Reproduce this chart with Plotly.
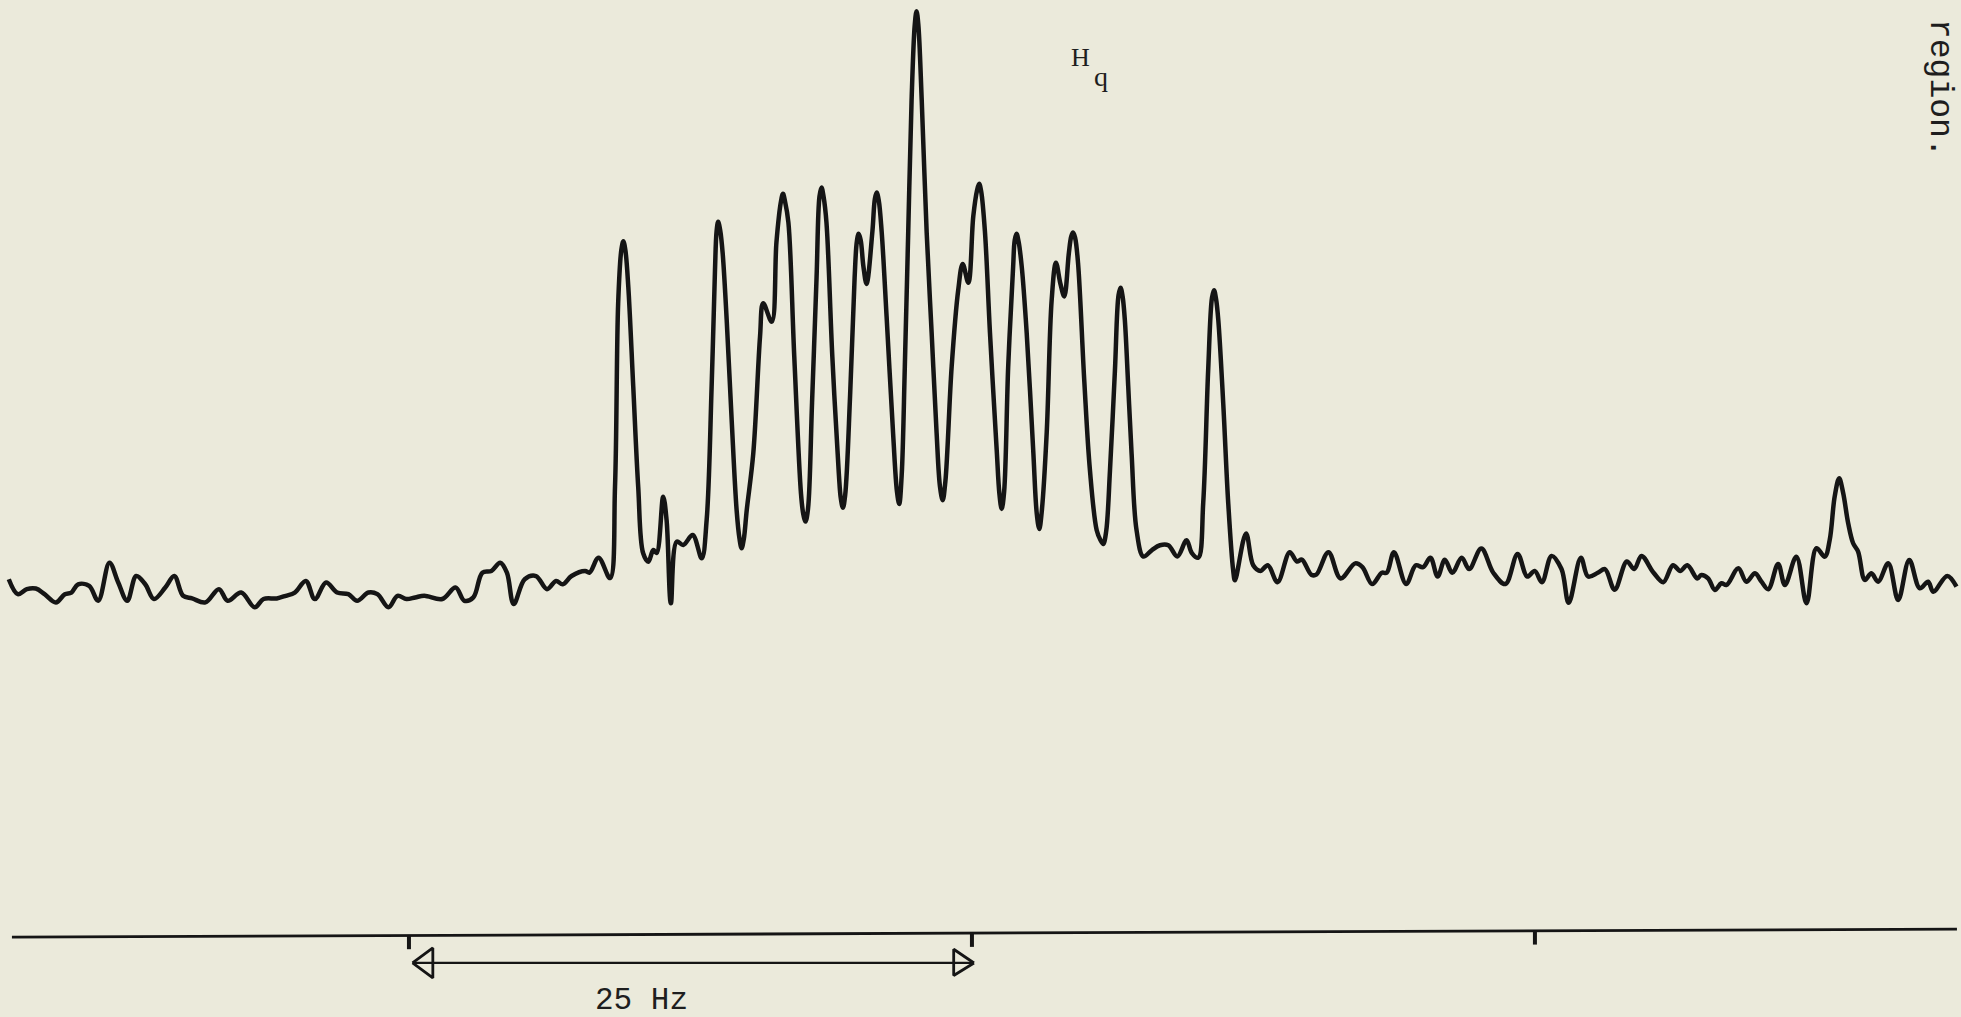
import numpy as np
import plotly.graph_objects as go

# recorder trace: frequency offset (Hz) and signal (arb. units)
# baseline to the left of the multiplet
left_hz = [
    -17.77, -17.37, -16.97, -16.57, -16.18, -15.68, -15.28, -14.99, -14.69, -14.20,
    -13.80, -13.30, -12.91, -12.51, -12.11, -11.71, -11.32, -10.82, -10.42, -10.03,
    -9.63, -9.04, -8.44, -8.05, -7.45, -6.85, -6.46, -5.87, -5.47, -5.07,
    -4.58, -4.18, -3.68, -3.19, -2.69, -2.30, -1.80, -1.40, -0.91, -0.51,
    -0.11, 0.28, 0.68, 1.48, 2.07, 2.46, 2.86, 3.26, 3.66, 4.05,
    4.35, 4.65, 5.14, 5.64, 6.13, 6.53, 6.83, 7.22, 7.82, 8.02,
    8.42,
]
left_sig = [
    11.8, -0.1, 3.9, 4.4, -0.1, -6.7, -0.1, 1.2, 7.8, 6.5,
    -5.4, 25, 9.2, -5.4, 14.4, 7.8, -4, 5.2, 14.4, -1.4,
    -3.5, -6.7, 3.9, -5.4, 1.2, -10.6, -4, -3.5, -1.4, 1.2,
    10.5, -4, 9.2, 1.2, -0.1, -5.4, 1.2, -0.1, -10.6, -1.4,
    -4, -2.7, -1.4, -4, 5.2, -5.4, -2.7, 17.1, 18.4, 25,
    17.1, -8, 11.8, 14.4, 3.9, 10.5, 7.8, 14.4, 18.4, 17.1,
    29,
]

# the H_q multiplet
mult_hz = [
    8.93, 9.15, 9.29, 9.43, 9.52, 9.61, 9.74, 9.96, 10.18, 10.40,
    10.63, 10.85, 11.00, 11.29, 11.44, 11.63, 11.89, 12.18, 12.60, 13.00,
    13.22, 13.44, 13.59, 13.66, 13.73, 13.82, 13.93, 14.11, 14.33, 14.55,
    14.68, 14.77, 14.87, 15.00, 15.29, 15.59, 15.73, 16.11, 16.32, 16.52,
    16.61, 16.70, 16.85, 17.11, 17.41, 17.51, 17.61, 17.72, 17.90, 18.10,
    18.23, 18.32, 18.41, 18.54, 18.80, 19.09, 19.18, 19.27, 19.37, 19.59,
    19.79, 19.89, 19.97, 20.06, 20.18, 20.32, 20.58, 20.69, 20.77, 20.86,
    20.99, 21.21, 21.50, 21.67, 21.77, 21.88, 22.02, 22.17, 22.32, 22.46,
    22.54, 22.62, 22.77, 22.99, 23.21, 23.43, 23.58, 23.70, 23.82, 24.10,
    24.39, 24.59, 24.84, 25.06, 25.23, 25.32, 25.41, 25.58, 25.80, 26.10,
    26.22, 26.32, 26.43, 26.61, 26.83, 26.90, 26.98, 27.07, 27.21, 27.43,
    27.72, 27.88, 27.99, 28.10, 28.32, 28.54, 28.73, 28.93, 29.10, 29.30,
    29.41, 29.49, 29.58, 29.71, 29.99, 30.24, 30.54, 30.71, 30.83, 30.96,
    31.13, 31.35, 31.51, 31.60, 31.69, 31.79, 31.94, 32.09, 32.31, 32.61,
    32.98, 33.35, 33.72, 34.12, 34.53, 34.76, 35.05, 35.27, 35.49, 35.66,
    35.75, 35.84, 35.94, 36.16, 36.38, 36.60, 36.68,
]
mult_sig = [
    12.8, 85.8, 232.5, 275, 282, 275, 245.8, 165.8, 85.8, 32.6,
    25.9, 35.2, 32.8, 77.8, 59.2, -7.4, 41.9, 39.2, 47.2, 28.6,
    59.2, 165.8, 259.1, 290, 297.7, 291, 272.7, 219.1, 139.2, 67.2,
    44, 36.6, 44, 67.2, 112.5, 205.8, 232.5, 217.8, 281.6, 314,
    320, 314, 297, 190, 80, 64, 58, 68, 153, 253,
    318, 325, 318, 297, 190, 96, 76, 69, 79, 159,
    253, 282, 288, 283, 262, 248, 290, 316, 321, 315,
    290, 222, 128, 82, 72, 95, 182, 289, 395, 455,
    466, 455, 395, 289, 209, 129, 86, 75, 90, 182,
    243, 264, 249, 302, 323, 328, 322, 289, 209, 115,
    80, 68, 82, 182, 262, 283, 288, 282, 262, 209,
    115, 64, 52, 66, 129, 235, 265, 248, 238, 272,
    286, 289, 285, 265, 170, 99, 51, 43, 40, 50,
    99, 179, 239, 245, 238, 219, 166, 112, 51, 30,
    35, 39, 39, 30, 43, 33, 29, 73, 179, 237,
    243, 236, 219, 152, 73, 19, 11,
]

# baseline to the right, with the small peak near 63.5 Hz
right_hz = [
    37.17, 37.49, 37.81, 38.14, 38.57, 39.11, 39.43, 39.65, 40.07, 40.29,
    40.83, 41.37, 42.02, 42.34, 42.77, 43.20, 43.42, 43.74, 44.28, 44.71,
    45.03, 45.36, 45.68, 46.00, 46.33, 46.75, 47.08, 47.62, 48.15, 48.69,
    49.23, 49.66, 49.99, 50.31, 50.74, 51.18, 51.50, 52.04, 52.36, 52.79,
    53.11, 53.54, 54.08, 54.41, 54.73, 55.27, 55.70, 56.13, 56.45, 56.77,
    57.21, 57.39, 57.69, 57.99, 58.28, 58.51, 59.03, 59.39, 59.77, 60.06,
    60.36, 60.80, 61.10, 61.61, 62.06, 62.50, 62.87, 63.09, 63.31, 63.51,
    63.69, 63.91, 64.13, 64.35, 64.65, 64.94, 65.24, 65.69, 66.13, 66.62,
    67.09, 67.46, 67.69, 68.31, 68.72,
]
right_sig = [
    48.5, 23, 18.5, 23, 9.5, 33.5, 26, 27.5, 15.5, 15.5,
    33.5, 12.5, 24.5, 21.5, 8, 17, 17, 33.5, 8, 23,
    21.5, 29, 14, 27.5, 17, 29, 20, 36.5, 17, 8,
    32, 14, 18.5, 9.5, 30.5, 20, -7, 29, 14, 17,
    20, 3.5, 26, 20, 30.5, 17, 9.5, 23, 18.5, 23,
    12.5, 15.3, 12.6, 3.3, 8.6, 7.3, 20.6, 9.9, 16.6, 9.9,
    3.8, 24.1, 7.3, 29.9, -7.4, 36.6, 29.9, 43.3, 77.9, 92.5,
    80.6, 56.6, 40.6, 33.9, 11.3, 16.6, 9.9, 24.6, -4.7, 27.3,
    4.6, 9.9, 1.9, 14.5, 5.9,
]

# frequency scale under the trace
scale_ticks_hz = [0, 25, 50]
scale_span_hz = [0, 25]
scale_label = "25 Hz"

paper = "#ebeadb"
ink = "#151515"

freq_hz = left_hz + mult_hz + right_hz
signal = left_sig + mult_sig + right_sig

fig = go.Figure()

fig.add_trace(go.Scatter(
    x=freq_hz, y=signal, mode="lines",
    line=dict(color=ink, width=4.5, shape="spline", smoothing=1.0),
    hoverinfo="skip",
))

# scale line (slightly tilted on the chart paper)
line_x = [-17.63, 68.74]
line_y = [-274.3, -267.9]
fig.add_trace(go.Scatter(x=line_x, y=line_y, mode="lines",
                         line=dict(color=ink, width=2.8), hoverinfo="skip"))

tick_x, tick_y = [], []
for t in scale_ticks_hz:
    y0 = float(np.interp(t, line_x, line_y))
    tick_x += [t, t, None]
    tick_y += [y0, y0 - 11, None]
fig.add_trace(go.Scatter(x=tick_x, y=tick_y, mode="lines",
                         line=dict(color=ink, width=4), hoverinfo="skip"))

# double arrow marking 25 Hz
arrow_y = -295
a0, a1 = scale_span_hz[0] + 0.16, scale_span_hz[1] + 0.09
head_len, head_h = 0.9, 12
fig.add_trace(go.Scatter(x=[a0, a1], y=[arrow_y, arrow_y], mode="lines",
                         line=dict(color=ink, width=2.2), hoverinfo="skip"))
fig.add_trace(go.Scatter(
    x=[a0, a0 + head_len, a0 + head_len, a0, None,
       a1, a1 - head_len, a1 - head_len, a1],
    y=[arrow_y, arrow_y + head_h, arrow_y - head_h, arrow_y, None,
       arrow_y, arrow_y + head_h - 1, arrow_y - head_h + 2, arrow_y],
    mode="lines", line=dict(color=ink, width=2.8), hoverinfo="skip"))

W, H = 1961, 1017
text_col = "#1e1e1e"


def label(txt, px, py, family, size, angle=0):
    fig.add_annotation(x=px / W, y=1 - py / H, xref="paper", yref="paper",
                       xanchor="center", yanchor="middle",
                       text=txt, showarrow=False, textangle=angle,
                       font=dict(family=family, size=size, color=text_col))


label(scale_label, 641, 1000, "Liberation Mono", 31)
label("H", 1080, 57, "Liberation Serif", 26)
label("q", 1101, 76, "Liberation Serif", 28)
label("region.", 1939, 88, "Liberation Mono", 33, angle=90)

fig.update_layout(
    width=W, height=H,
    margin=dict(l=0, r=0, t=0, b=0),
    paper_bgcolor=paper, plot_bgcolor=paper,
    showlegend=False,
    xaxis=dict(range=[-18.16, 68.92], visible=False, fixedrange=True),
    yaxis=dict(range=[-338.2, 475], visible=False, fixedrange=True),
)

fig.write_html(
    "out.html",
    config={"displayModeBar": False},
    post_script="document.body.style.margin='0';"
                "document.body.style.background='" + paper + "';",
)
